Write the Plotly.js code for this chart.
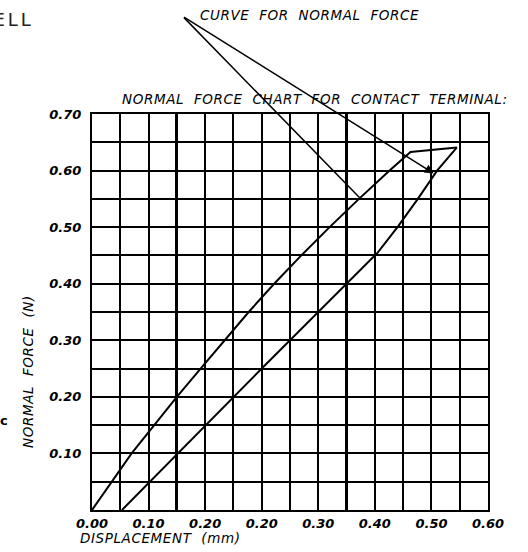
<!DOCTYPE html>
<html>
<head>
<meta charset="utf-8">
<script src="https://cdn.plot.ly/plotly-3.0.1.min.js"></script>
<style>
  html, body { margin: 0; padding: 0; background: #fff; }
  #chart { width: 528px; height: 552px; }
  .annotation-text { letter-spacing: 0.6px; }
  .annotation[data-index="6"] .annotation-text { letter-spacing: 3px; }
</style>
</head>
<body>
<div id="chart"></div>
<script>
// ---- data ----
const loadX   = [0, 0.035, 0.07, 0.11, 0.15, 0.192, 0.234, 0.277, 0.322, 0.370, 0.420, 0.472, 0.526, 0.563, 0.645];
const loadY   = [0, 0.05, 0.10, 0.15, 0.20, 0.25, 0.30, 0.35, 0.40, 0.45, 0.50, 0.55, 0.60, 0.633, 0.641];
const unloadX = [0.645, 0.61, 0.576, 0.54, 0.505, 0.30, 0.053];
const unloadY = [0.641, 0.60, 0.55, 0.50, 0.455, 0.25, 0];

const xTickVals = [0, 0.1, 0.2, 0.3, 0.4, 0.5, 0.6, 0.7];
const xTickText = ["0.00", "0.10", "0.20", "0.20", "0.30", "0.40", "0.50", "0.60"];
const yTickVals = [0.1, 0.2, 0.3, 0.4, 0.5, 0.6, 0.7];
const yTickText = ["0.10", "0.20", "0.30", "0.40", "0.50", "0.60", "0.70"];
const heavyGridX = [0.15, 0.45];

const chartTitle = "NORMAL\u00a0\u00a0FORCE\u00a0\u00a0CHART\u00a0\u00a0FOR\u00a0\u00a0CONTACT\u00a0\u00a0TERMINAL:";
const curveLabel = "CURVE\u00a0\u00a0FOR\u00a0\u00a0NORMAL\u00a0\u00a0FORCE";
const xTitle = "DISPLACEMENT\u00a0\u00a0(mm)";
const yTitle = "NORMAL\u00a0\u00a0FORCE\u00a0\u00a0(N)";

// ---- styling ----
const txtFont = {family: "DejaVu Sans", size: 13.5, color: "#000", style: "italic"};
const tickFont = {family: "DejaVu Sans", size: 13, color: "#000", style: "italic", weight: "bold"};

const traces = [
  {x: loadX, y: loadY, mode: "lines", line: {color: "#000", width: 2}, hoverinfo: "skip", showlegend: false},
  {x: unloadX, y: unloadY, mode: "lines", line: {color: "#000", width: 2}, hoverinfo: "skip", showlegend: false},
  {x: [], y: [], xaxis: "x2", yaxis: "y", mode: "lines", hoverinfo: "skip", showlegend: false}
];

const layout = {
  width: 528, height: 552,
  margin: {l: 92, r: 40, t: 114, b: 42},
  paper_bgcolor: "#fff", plot_bgcolor: "#fff",
  showlegend: false,
  xaxis: {
    range: [0, 0.7], fixedrange: true,
    tickmode: "array", tickvals: xTickVals, ticktext: xTickText,
    tickfont: tickFont, ticks: "", ticklabelstandoff: 0,
    showgrid: true, gridcolor: "#000", gridwidth: 2,
    minor: {tickmode: "linear", tick0: 0, dtick: 0.05, showgrid: true, gridcolor: "#000", gridwidth: 2},
    showline: true, mirror: true, linecolor: "#000", linewidth: 2,
    zeroline: false
  },
  xaxis2: {
    range: [0, 0.7], overlaying: "x", anchor: "y", fixedrange: true,
    tickmode: "array", tickvals: heavyGridX, showticklabels: false, ticks: "",
    showgrid: true, gridcolor: "#000", gridwidth: 3, zeroline: false, showline: false
  },
  yaxis: {
    range: [0, 0.7], fixedrange: true,
    tickmode: "array", tickvals: yTickVals, ticktext: yTickText,
    tickfont: tickFont, ticks: "", ticklabelstandoff: 6,
    showgrid: true, gridcolor: "#000", gridwidth: 2,
    minor: {tickmode: "linear", tick0: 0, dtick: 0.05, showgrid: true, gridcolor: "#000", gridwidth: 2},
    showline: true, mirror: true, linecolor: "#000", linewidth: 2,
    zeroline: false
  },
  shapes: [
    {type: "line", xref: "x", yref: "y", x0: 0.16, y0: 0.873, x1: 0.183, y1: 0.877,
     line: {color: "#000", width: 1.5}}
  ],
  annotations: [
    {text: chartTitle, x: 0.0707, y: 1.038, xref: "paper", yref: "paper", xanchor: "left", yanchor: "middle",
     showarrow: false, font: txtFont},
    {text: curveLabel, x: 0.2677, y: 1.25, xref: "paper", yref: "paper", xanchor: "left", yanchor: "middle",
     showarrow: false, font: txtFont},
    {text: "", x: 0.474, y: 0.551, xref: "x", yref: "y", ax: 0.16, ay: 0.873, axref: "x", ayref: "y",
     showarrow: true, arrowhead: 0, arrowwidth: 1.5, arrowcolor: "#000", standoff: 0, startstandoff: 0},
    {text: "", x: 0.604, y: 0.595, xref: "x", yref: "y", ax: 0.16, ay: 0.873, axref: "x", ayref: "y",
     showarrow: true, arrowhead: 2, arrowsize: 1.2, arrowwidth: 1.5, arrowcolor: "#000", standoff: 0, startstandoff: 0},
    {text: xTitle, x: -0.0354, y: -0.0707, xref: "paper", yref: "paper", xanchor: "left", yanchor: "middle",
     showarrow: false, font: txtFont},
    {text: yTitle, x: -0.1616, y: 0.3485, xref: "paper", yref: "paper", xanchor: "center", yanchor: "middle",
     textangle: -90, showarrow: false, font: txtFont},
    {text: "ELL", x: -0.1515, y: 1.2386, xref: "paper", yref: "paper", xanchor: "right", yanchor: "middle",
     showarrow: false, font: {family: "DejaVu Sans", size: 18, color: "#222", weight: "normal"}},
    {text: "c", x: -0.2222, y: 0.227, xref: "paper", yref: "paper", xanchor: "center", yanchor: "middle",
     showarrow: false, font: {family: "DejaVu Sans", size: 13, color: "#000", weight: "bold"}}
  ]
};

Plotly.newPlot("chart", traces, layout, {staticPlot: true, displayModeBar: false});
</script>
</body>
</html>
